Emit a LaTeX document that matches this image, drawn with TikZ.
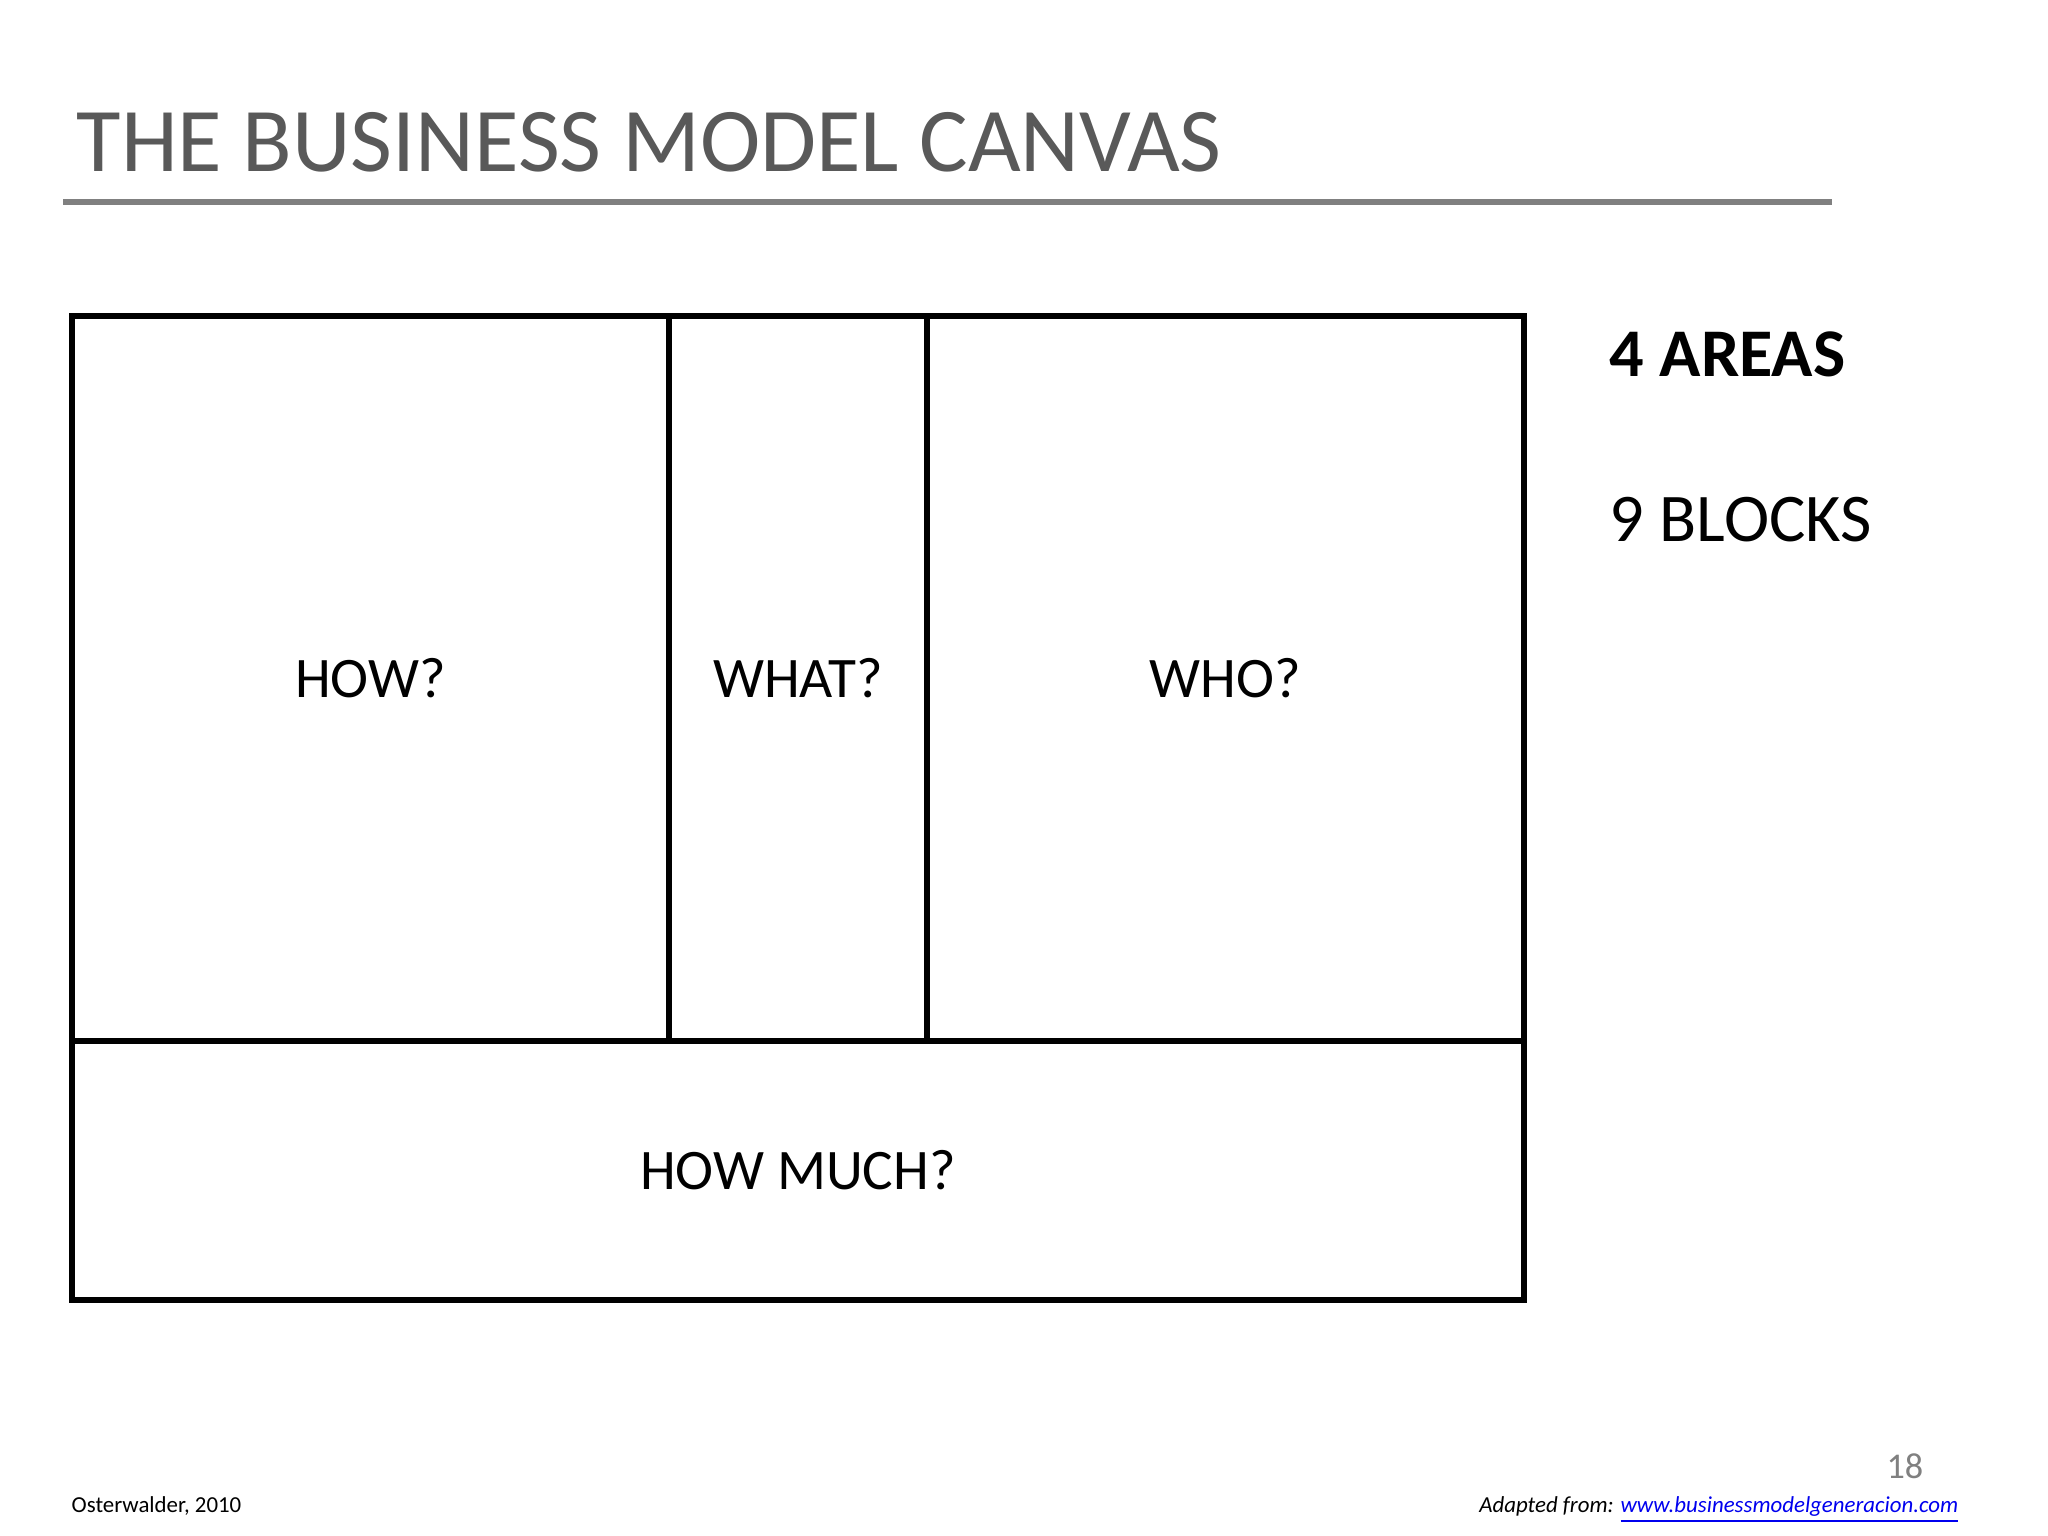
\documentclass[tikz,border=0pt]{standalone}
\usepackage{fontspec}
\setmainfont{Carlito}
\usetikzlibrary{calc}
\definecolor{titlegray}{HTML}{595959}
\definecolor{rulegray}{HTML}{808080}
\definecolor{linkblue}{HTML}{0000EE}
\tikzset{
  cellline/.style={line width=1.7pt, line join=miter},
  cellq/.style={font=\fontsize{16.3}{19}\selectfont, inner sep=0pt},
  sidetext/.style={font=\fontsize{19.4}{23}\selectfont, anchor=base west, inner sep=0pt},
  foot/.style={font=\fontsize{6.5}{8}\selectfont, inner sep=0pt}
}
\begin{document}
\begin{tikzpicture}[x=0.01cm, y=-0.01cm]
  % page frame, 2048 x 1536
  \useasboundingbox (0,0) rectangle (2048,1536);
  % title and rule
  \node[anchor=base west, inner sep=0pt, text=titlegray,
        font=\fontsize{25.9}{30}\selectfont] (title) at (76,171) {THE BUSINESS MODEL CANVAS};
  \draw[rulegray, line width=1.7pt] (63,202) -- (1832,202);
  % canvas corners
  \coordinate (nw) at (72,316);
  \coordinate (se) at (1524,1300);
  \coordinate (split1) at (669,316);
  \coordinate (split2) at (927,316);
  \coordinate (mid) at (72,1041);
  % outer frame and inner lines
  \draw[cellline] (nw) rectangle (se);
  \draw[cellline] (mid) -- (mid -| se);
  \draw[cellline] (split1) -- (split1 |- mid);
  \draw[cellline] (split2) -- (split2 |- mid);
  % area questions
  \node[cellq] (how)     at ($(nw)!0.5!(split1 |- mid)$) {HOW?};
  \node[cellq] (what)    at ($(split1)!0.5!(split2 |- mid)$) {WHAT?};
  \node[cellq] (who)     at ($(split2)!0.5!(se |- mid)$) {WHO?};
  \node[cellq] (howmuch) at ($(mid)!0.5!(se)$) {HOW MUCH?};
  % side notes
  \node[sidetext] (areas)  at (1609,376) {\bfseries 4 AREAS};
  \node[sidetext] (blocks) at (1609,541) {9 BLOCKS};
  % footer
  \node[anchor=base east, inner sep=0pt, text=rulegray,
        font=\fontsize{10.3}{12}\selectfont] (page) at (1924,1478) {18};
  \node[foot, anchor=base west] (cite) at (71,1512) {Osterwalder, 2010};
  \node[foot, anchor=base east] (source) at (1959,1512)
    {\itshape Adapted from: \textcolor{linkblue}{\underline{www.businessmodelgeneracion.com}}};
\end{tikzpicture}
\end{document}
